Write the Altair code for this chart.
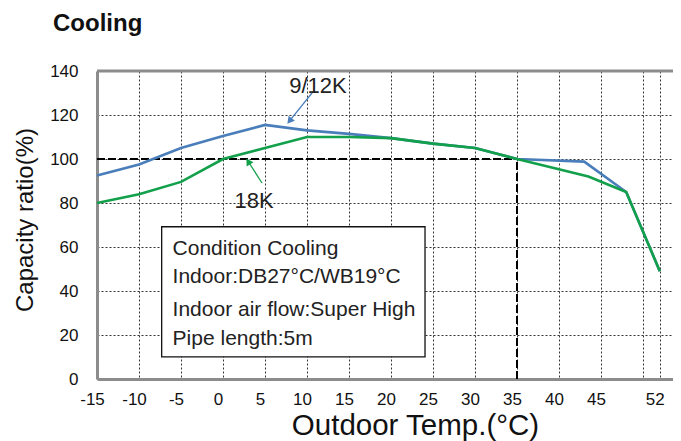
import altair as alt
import pandas as pd

# ---- data ----
temps_912 = [-15, -10, -5, 0, 5, 10, 15, 20, 25, 30, 35, 43, 48, 52]
ratio_912 = [92.5, 97.5, 105, 110.4, 115.5, 113, 111.4, 109.5, 107, 105, 100, 98.8, 85, 49]
temps_18 = [-15, -10, -5, 0, 5, 10, 15, 20, 25, 30, 35, 43.5, 48, 52]
ratio_18 = [80, 84, 89.6, 100, 105, 110, 110, 109.5, 107, 105, 100, 92, 85, 49]
series_names = ["9/12K", "18K"]
series_colors = ["#4A7EBB", "#12A04B"]

x_ticks = [-15, -10, -5, 0, 5, 10, 15, 20, 25, 30, 35, 40, 45, 50, 52]
y_ticks = [0, 20, 40, 60, 80, 100, 120, 140]

rated_temp = 35
rated_ratio = 100

legend_lines = [
    "Condition Cooling",
    "Indoor:DB27°C/WB19°C",
    "Indoor air flow:Super High",
    "Pipe length:5m",
]

FONT = "Liberation Sans"
X_DOMAIN = [-15, 53.571]
Y_DOMAIN = [0, 140]

lines_df = pd.concat([
    pd.DataFrame({"t": temps_912, "r": ratio_912, "s": series_names[0]}),
    pd.DataFrame({"t": temps_18, "r": ratio_18, "s": series_names[1]}),
])

xs = alt.Scale(domain=X_DOMAIN, nice=False, zero=False)
ys = alt.Scale(domain=Y_DOMAIN, nice=False, zero=False)

x_axis = alt.Axis(
    values=x_ticks, labelExpr="datum.value == 50 ? '' : '' + datum.value",
    grid=True, gridDash=[2, 2], gridColor="#333333", gridWidth=1,
    domainColor="#8c8c8c", domainWidth=3, ticks=False, tickSize=0,
    labelFontSize=17, labelFont=FONT, labelColor="#111111", labelPadding=12,
    labelOffset=-5, labelFlush=False, labelOverlap=False,
    title="Outdoor Temp.(°C)", titleFont=FONT, titleFontSize=29.5,
    titleFontWeight="normal", titleColor="#111111",
    titleX=318, titleY=55, titleAlign="center", titleBaseline="alphabetic",
)
y_axis = alt.Axis(
    values=y_ticks, grid=True, gridDash=[2, 2], gridColor="#333333", gridWidth=1,
    domainColor="#8c8c8c", domainWidth=3, ticks=False, tickSize=0,
    labelFontSize=17, labelFont=FONT, labelColor="#111111", labelPadding=19,
    labelFlush=False, labelOverlap=False,
    title="Capacity ratio(%)", titleFont=FONT, titleFontSize=24,
    titleFontWeight="normal", titleColor="#111111",
    titleX=-72, titleY=148.5, titleAngle=270, titleAlign="center",
    titleBaseline="middle",
)

lines = alt.Chart(lines_df).mark_line(strokeWidth=2.6).encode(
    x=alt.X("t:Q", scale=xs, axis=x_axis),
    y=alt.Y("r:Q", scale=ys, axis=y_axis),
    color=alt.Color("s:N", scale=alt.Scale(domain=series_names, range=series_colors), legend=None),
    order=alt.Order("t:Q"),
    detail="s:N",
)

top_border = alt.Chart(pd.DataFrame({"v": [Y_DOMAIN[1]]})).mark_rule(
    color="#8c8c8c", strokeWidth=3).encode(y=alt.Y("v:Q", scale=ys))

ref_h = alt.Chart(pd.DataFrame({"a": [X_DOMAIN[0]], "b": [rated_temp], "v": [rated_ratio]})).mark_rule(
    color="#000000", strokeWidth=2, strokeDash=[8, 3]).encode(
    x=alt.X("a:Q", scale=xs), x2="b:Q", y=alt.Y("v:Q", scale=ys))
ref_v = alt.Chart(pd.DataFrame({"t": [rated_temp], "a": [0], "b": [rated_ratio]})).mark_rule(
    color="#000000", strokeWidth=2, strokeDash=[8, 3]).encode(
    x=alt.X("t:Q", scale=xs), y=alt.Y("a:Q", scale=ys), y2="b:Q")

# annotation box (data units)
box = alt.Chart(pd.DataFrame({"x1": [-7.3], "x2": [24.05], "y1": [10.1], "y2": [69.2]})).mark_rect(
    fill="white", stroke="#111111", strokeWidth=1.3).encode(
    x=alt.X("x1:Q", scale=xs), x2="x2:Q", y=alt.Y("y1:Q", scale=ys), y2="y2:Q")

box_text = alt.Chart(pd.DataFrame({"txt": legend_lines, "x": [-6.0] * 4,
                                   "y": [56.4, 43.5, 28.6, 15.5]})).mark_text(
    align="left", baseline="alphabetic", font=FONT, fontSize=21, color="#222222").encode(
    x=alt.X("x:Q", scale=xs), y=alt.Y("y:Q", scale=ys), text="txt:N")

labels = alt.Chart(pd.DataFrame({"txt": series_names, "x": [11.3, 3.7], "y": [130, 77.7]})).mark_text(
    align="center", baseline="alphabetic", font=FONT, fontSize=22, color="#222222").encode(
    x=alt.X("x:Q", scale=xs), y=alt.Y("y:Q", scale=ys), text="txt:N")

arrow_df = pd.DataFrame({
    "s": series_names,
    "x1": [10.6, 4.64], "y1": [130, 89.1],
    "x2": [7.92, 3.0], "y2": [117.3, 98.9],
    "ang": [219, 327],
})
arrow_lines = alt.Chart(arrow_df).mark_rule(strokeWidth=1.3).encode(
    x=alt.X("x1:Q", scale=xs), y=alt.Y("y1:Q", scale=ys), x2="x2:Q", y2="y2:Q",
    color=alt.Color("s:N", scale=alt.Scale(domain=series_names, range=series_colors), legend=None))
arrow_heads = alt.Chart(arrow_df).mark_point(shape="triangle-up", filled=True, size=65, opacity=1).encode(
    x=alt.X("x2:Q", scale=xs), y=alt.Y("y2:Q", scale=ys), angle=alt.Angle("ang:Q", scale=None),
    color=alt.Color("s:N", scale=alt.Scale(domain=series_names, range=series_colors), legend=None))

title = alt.Chart(pd.DataFrame({"txt": ["Cooling"]})).mark_text(
    align="left", baseline="alphabetic", font=FONT, fontSize=24, fontWeight="bold",
    color="#111111").encode(x=alt.value(-44), y=alt.value(-40), text="txt:N")

chart = alt.layer(
    ref_h, ref_v, lines, top_border, box, box_text, labels, arrow_lines, arrow_heads, title
).properties(
    width=576, height=308,
    autosize=alt.AutoSizeParams(type="none"),
    padding={"left": 89, "top": 63, "right": 0, "bottom": 62},
).configure_view(strokeWidth=0)

chart.save("out.html", embed_options={"renderer": "svg", "actions": False})
